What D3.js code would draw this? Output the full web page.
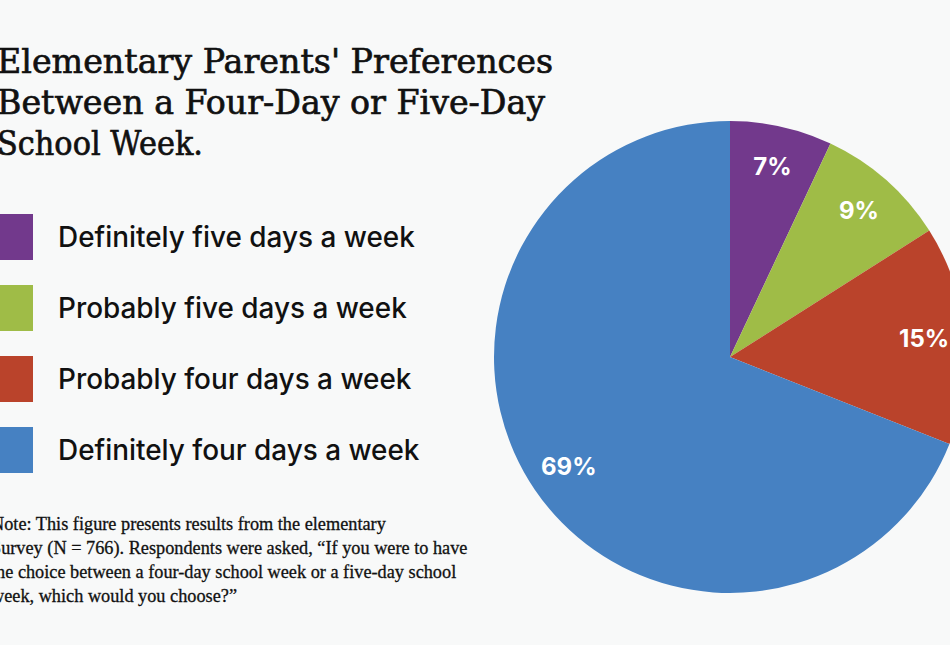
<!DOCTYPE html>
<html><head><meta charset="utf-8">
<script src="https://cdn.jsdelivr.net/npm/d3@7"></script>
<style>html,body{margin:0;padding:0;background:#f8f9f9;overflow:hidden}</style>
</head><body>
<script>
const categories = ["Definitely five days a week","Probably five days a week","Probably four days a week","Definitely four days a week"];
const values = [7, 9, 15, 69];
const colors = ["#72398c","#9fbc47","#ba432b","#4681c2"];
const titleLines = ["Elementary Parents' Preferences","Between a Four-Day or Five-Day","School Week."];
const titleWidths = [556, 548, 206];
const noteLines = ["Note: This figure presents results from the elementary","Survey (N = 766). Respondents were asked, \u201cIf you were to have","the choice between a four-day school week or a five-day school","week, which would you choose?\u201d"];

const W = 950, H = 645;
const svg = d3.select("body").append("svg").attr("width", W).attr("height", H);
svg.append("rect").attr("width", W).attr("height", H).attr("fill", "#f8f9f9");

// Title
const title = svg.append("g");
title.selectAll("text").data(titleLines).join("text")
  .attr("x", -3).attr("y", (d,i) => 73 + i*41)
  .attr("font-family", "DejaVu Serif, serif")
  .attr("font-size", 34).attr("fill", "#111")
  .attr("stroke", "#111").attr("stroke-width", 0.7)
  .attr("textLength", (d,i) => titleWidths[i])
  .attr("lengthAdjust", "spacingAndGlyphs")
  .text(d => d);

// Legend
const leg = svg.append("g");
const color = d3.scaleOrdinal().domain(categories).range(colors);
const ly = d3.scalePoint().domain(categories).range([237, 450]);
leg.selectAll("rect").data(categories).join("rect")
  .attr("x", -13).attr("y", d => ly(d) - 23).attr("width", 46).attr("height", 46)
  .attr("fill", d => color(d));
const lt = leg.selectAll("text").data(categories).join("text")
  .attr("x", 58).attr("y", d => ly(d) + 10)
  .attr("font-family", "Inter, sans-serif").attr("font-weight", 500)
  .attr("font-size", 23).attr("fill", "#111")
  .text(d => d);
const lw = lt.node().getComputedTextLength();
lt.attr("font-size", 23 * 357 / lw);

// Note
const note = svg.append("g");
const nt = note.selectAll("text").data(noteLines).join("text")
  .attr("x", -9).attr("y", (d,i) => 530 + i*24)
  .attr("font-family", "Liberation Serif, serif").attr("font-size", 17).attr("fill", "#111")
  .attr("stroke", "#111").attr("stroke-width", 0.3)
  .text(d => d);
const nw = nt.filter((d,i)=>i===1).node().getComputedTextLength();
nt.attr("font-size", 17 * 477 / nw);

// Pie
const cx = 730, cy = 357, r = 236;
const pie = d3.pie().sort(null).value(d => d);
const arcs = pie(values);
const arc = d3.arc().innerRadius(0).outerRadius(r);
const labelArc = d3.arc().innerRadius(2*195 - r).outerRadius(r);
const g = svg.append("g").attr("transform", `translate(${cx},${cy})`);
g.selectAll("path").data(arcs).join("path")
  .attr("d", arc).attr("fill", (d,i) => colors[i]);
g.selectAll("text").data(arcs).join("text")
  .attr("transform", d => `translate(${labelArc.centroid(d)})`)
  .attr("text-anchor", "middle").attr("dy", "0.35em")
  .attr("font-family", "Inter, sans-serif").attr("font-weight", 700)
  .attr("font-size", 24).attr("fill", "#fff")
  .text(d => d.data + "%");
</script>
</body></html>
